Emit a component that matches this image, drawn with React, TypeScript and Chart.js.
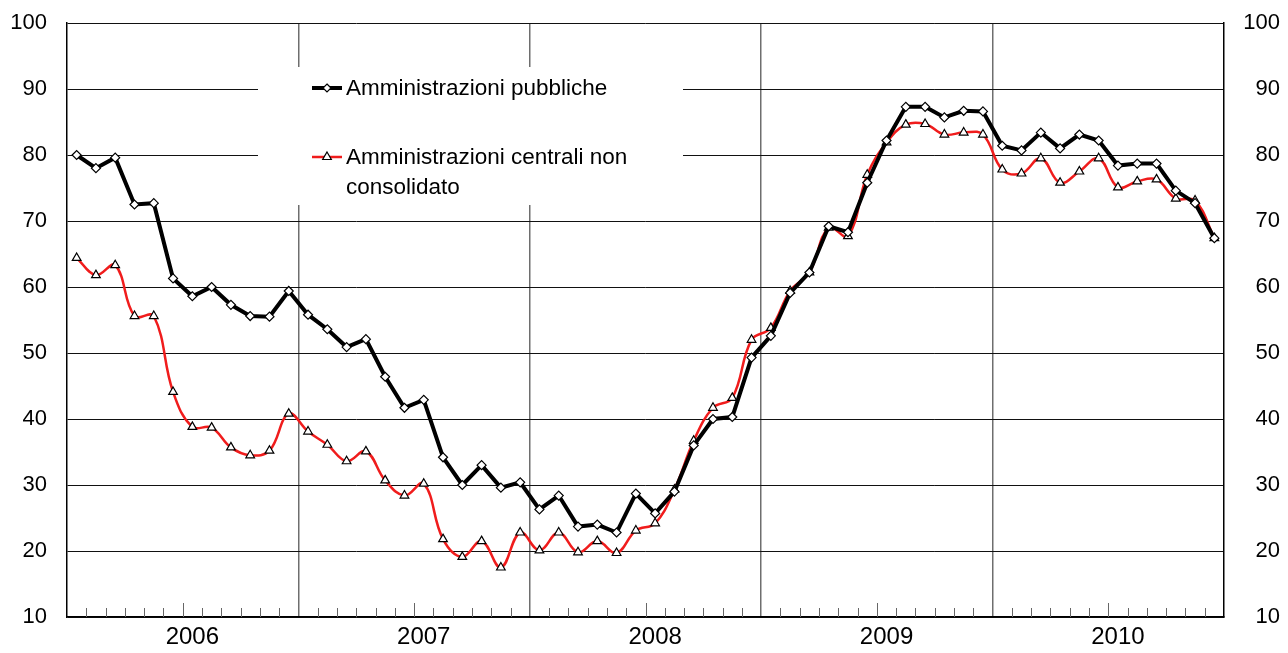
import React, { useEffect, useRef } from 'react';
import { Chart, registerables } from 'chart.js';

Chart.register(...registerables);

const monthNames = ['gen', 'feb', 'mar', 'apr', 'mag', 'giu', 'lug', 'ago', 'set', 'ott', 'nov', 'dic'];
const years = ['2006', '2007', '2008', '2009', '2010'];
const categories = years.flatMap((y) => monthNames.map((m) => `${m} ${y}`));

const seriesNames = ['Amministrazioni pubbliche', 'Amministrazioni centrali non', 'consolidato'];

const amministrazioniPubbliche = [
  80.0, 78.0, 79.6, 72.5, 72.7, 61.3, 58.6, 60.0, 57.3, 55.6, 55.5, 59.4,
  55.8, 53.6, 50.9, 52.1, 46.4, 41.7, 42.9, 34.2, 30.0, 33.0, 29.6, 30.4,
  26.3, 28.4, 23.7, 24.0, 22.8, 28.7, 25.7, 29.0, 36.0, 40.0, 40.3, 49.3,
  52.6, 59.1, 62.2, 69.2, 68.3, 75.8, 82.2, 87.3, 87.3, 85.7, 86.7, 86.6,
  81.4, 80.7, 83.4, 81.0, 83.1, 82.2, 78.4, 78.7, 78.7, 74.6, 72.7, 67.4,
];

const centraliNonConsolidato = [
  64.4, 61.8, 63.3, 55.6, 55.6, 44.1, 38.8, 38.7, 35.7, 34.5, 35.2, 40.8,
  38.1, 36.1, 33.6, 35.1, 30.7, 28.4, 30.2, 21.8, 19.1, 21.5, 17.5, 22.8,
  20.1, 22.8, 19.8, 21.5, 19.7, 23.1, 24.2, 29.3, 36.7, 41.7, 43.2, 52.0,
  53.8, 59.4, 62.2, 69.0, 67.7, 77.0, 81.9, 84.6, 84.7, 83.1, 83.4, 83.1,
  77.8, 77.2, 79.5, 75.8, 77.5, 79.5, 75.1, 76.0, 76.3, 73.4, 73.1, 67.4,
];

const yMin = 10;
const yMax = 100;
const yStep = 10;

const FONT = '"Liberation Sans", Arial, sans-serif';
const RED = '#f01c1c';

const innerTicksPlugin = {
  id: 'innerTicks',
  afterDatasetsDraw(chart: any) {
    const { ctx, scales } = chart;
    const x = scales.x;
    const bottom = chart.chartArea.bottom;
    ctx.save();
    ctx.strokeStyle = '#666';
    ctx.lineWidth = 1;
    for (let i = 1; i < categories.length; i++) {
      if (i % 12 === 0) continue;
      const px = Math.round((x.getPixelForValue(i - 1) + x.getPixelForValue(i)) / 2) + 0.5;
      const len = i % 12 === 6 ? 14 : 9;
      ctx.beginPath();
      ctx.moveTo(px, bottom);
      ctx.lineTo(px, bottom - len);
      ctx.stroke();
    }
    ctx.restore();
  },
};

function drawDiamond(ctx: CanvasRenderingContext2D, cx: number, cy: number, r: number) {
  ctx.beginPath();
  ctx.moveTo(cx, cy - r);
  ctx.lineTo(cx + r, cy);
  ctx.lineTo(cx, cy + r);
  ctx.lineTo(cx - r, cy);
  ctx.closePath();
  ctx.fillStyle = '#fff';
  ctx.fill();
  ctx.strokeStyle = '#000';
  ctx.lineWidth = 1.2;
  ctx.stroke();
}

function drawTriangle(ctx: CanvasRenderingContext2D, cx: number, cy: number, r: number) {
  const h = Math.sqrt(3) / 2;
  ctx.beginPath();
  ctx.moveTo(cx, cy - r);
  ctx.lineTo(cx + r * h, cy + r / 2);
  ctx.lineTo(cx - r * h, cy + r / 2);
  ctx.closePath();
  ctx.fillStyle = '#fff';
  ctx.fill();
  ctx.strokeStyle = '#000';
  ctx.lineWidth = 1.2;
  ctx.stroke();
}

const boxLegendPlugin = {
  id: 'boxLegend',
  beforeDatasetsDraw(chart: any) {
    const { ctx } = chart;
    ctx.save();
    ctx.fillStyle = '#fff';
    ctx.fillRect(258, 67, 425, 138);

    // entry 1
    ctx.strokeStyle = '#000';
    ctx.lineWidth = 4;
    ctx.beginPath();
    ctx.moveTo(312, 88);
    ctx.lineTo(342, 88);
    ctx.stroke();
    drawDiamond(ctx, 327, 88, 4);

    // entry 2
    ctx.strokeStyle = RED;
    ctx.lineWidth = 2.5;
    ctx.beginPath();
    ctx.moveTo(312, 157);
    ctx.lineTo(342, 157);
    ctx.stroke();
    drawTriangle(ctx, 327, 157, 5);

    ctx.fillStyle = '#000';
    ctx.font = `22.5px ${FONT}`;
    ctx.textBaseline = 'middle';
    ctx.textAlign = 'left';
    ctx.fillText(seriesNames[0], 346, 89);
    ctx.fillText(seriesNames[1], 346, 158);
    ctx.fillText(seriesNames[2], 346, 188);
    ctx.restore();
  },
};

export default function App() {
  const canvasRef = useRef<HTMLCanvasElement | null>(null);

  useEffect(() => {
    if (!canvasRef.current) return;
    const chart = new Chart(canvasRef.current, {
      type: 'line',
      data: {
        labels: categories,
        datasets: [
          {
            label: seriesNames[0],
            data: amministrazioniPubbliche,
            borderColor: '#000',
            borderWidth: 4,
            tension: 0,
            pointStyle: 'rectRot',
            pointRadius: 4.5,
            pointBackgroundColor: '#fff',
            pointBorderColor: '#000',
            pointBorderWidth: 1.2,
            yAxisID: 'y',
          },
          {
            label: seriesNames[1] + ' ' + seriesNames[2],
            data: centraliNonConsolidato,
            borderColor: RED,
            borderWidth: 2.5,
            tension: 0.4,
            pointStyle: 'triangle',
            pointRadius: 5,
            pointBackgroundColor: '#fff',
            pointBorderColor: '#000',
            pointBorderWidth: 1.2,
            yAxisID: 'y',
          },
        ],
      },
      options: {
        animation: false,
        responsive: false,
        maintainAspectRatio: false,
        layout: { padding: { left: 0, right: 8, top: 23, bottom: 0 } },
        plugins: {
          legend: { display: false },
          tooltip: { enabled: false },
        },
        scales: {
          x: {
            type: 'category',
            offset: true,
            grid: {
              offset: true,
              drawTicks: false,
              lineWidth: 1.5,
              color: (c: any) =>
                c.type === 'tick' && c.index > 0 && c.index % 12 === 0 ? '#6e6e6e' : 'rgba(0,0,0,0)',
            },
            border: { display: true, color: '#000', width: 1.5 },
            ticks: {
              autoSkip: false,
              maxRotation: 0,
              minRotation: 0,
              padding: 6,
              color: '#000',
              font: { family: FONT, size: 24 },
              callback: (_v: any, i: number) => (i % 12 === 6 ? years[Math.floor(i / 12)] : ''),
            },
            afterFit: (s: any) => {
              s.height = 36;
              s.paddingLeft = 0;
              s.paddingRight = 0;
            },
          },
          y: {
            position: 'left',
            min: yMin,
            max: yMax,
            ticks: {
              stepSize: yStep,
              padding: 20,
              color: '#000',
              font: { family: FONT, size: 22 },
            },
            grid: { color: '#111', lineWidth: 1, drawTicks: false },
            border: { display: true, color: '#000', width: 1.5 },
            afterFit: (s: any) => {
              s.width = 67;
              s.paddingTop = 0;
              s.paddingBottom = 0;
            },
          },
          y2: {
            position: 'right',
            min: yMin,
            max: yMax,
            ticks: {
              stepSize: yStep,
              padding: 20,
              crossAlign: 'far',
              color: '#000',
              font: { family: FONT, size: 22 },
            },
            grid: { display: false, drawTicks: false },
            border: { display: true, color: '#000', width: 1.5 },
            afterFit: (s: any) => {
              s.width = 56;
              s.paddingTop = 0;
              s.paddingBottom = 0;
            },
          },
        },
      },
      plugins: [boxLegendPlugin, innerTicksPlugin],
    });
    return () => chart.destroy();
  }, []);

  return (
    <div style={{ position: 'fixed', left: 0, top: 0, width: 1288, height: 653, background: '#fff' }}>
      <canvas ref={canvasRef} width={1288} height={653} style={{ width: 1288, height: 653 }} />
    </div>
  );
}
